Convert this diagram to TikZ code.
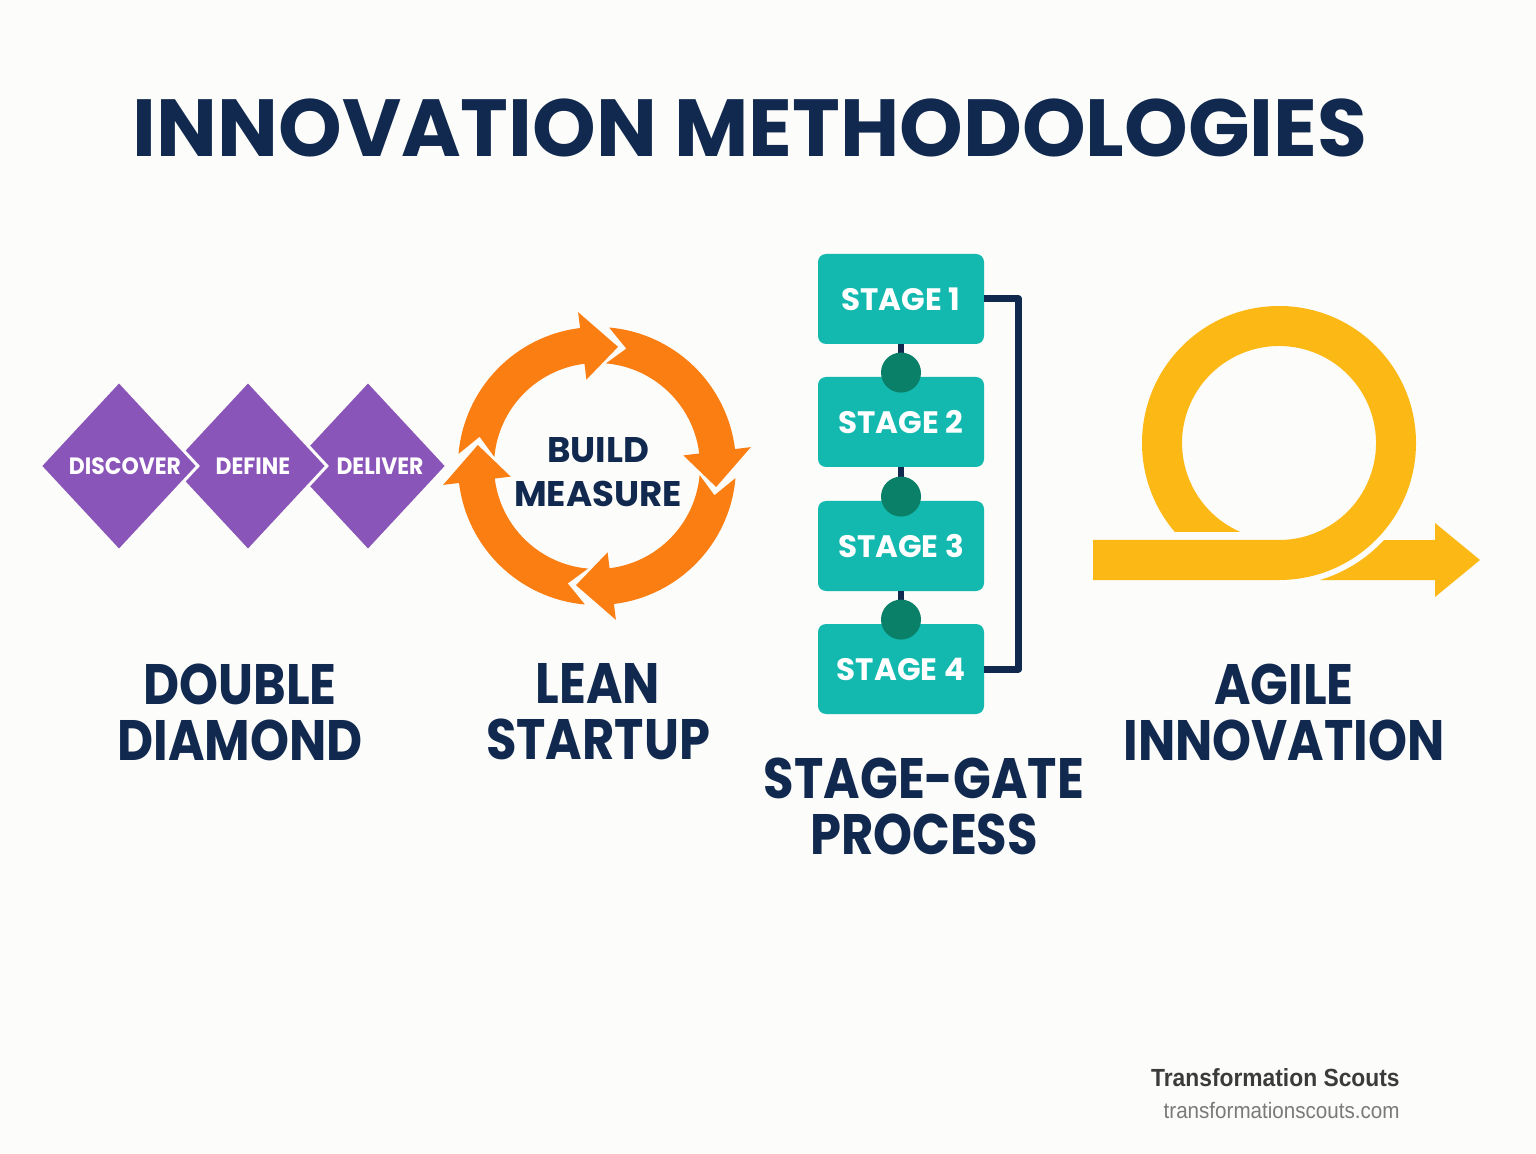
\documentclass[tikz,border=0pt]{standalone}
\usepackage{fontspec}
\setsansfont{Poppins}
\newfontfamily\namefont{Poppins}[FakeStretch=0.87]
\newfontfamily\phasefont{Poppins}[FakeStretch=0.93]
\newfontfamily\footfont{Liberation Sans}[FakeStretch=0.92]
\usepackage{tikz}
\usetikzlibrary{shapes.geometric,calc}
\definecolor{pagebg}{HTML}{FCFCFA}
\definecolor{navy}{HTML}{11294F}
\definecolor{ddpurple}{HTML}{8A55B8}
\definecolor{leanorange}{HTML}{FB7E12}
\definecolor{stageteal}{HTML}{13B9AF}
\definecolor{gategreen}{HTML}{0B8068}
\definecolor{agileyellow}{HTML}{FCB815}
\tikzset{heading/.style={text=navy,font=\sffamily\bfseries\fontsize{40.5}{42}\selectfont,inner sep=0pt},
    methodname/.style={text=navy,align=center,inner sep=0pt,
        font=\namefont\bfseries\fontsize{28.5}{28}\selectfont},
    phase/.style={shape=diamond,fill=ddpurple,draw=pagebg,line width=1.5pt,
        minimum width=79.5pt,minimum height=85.5pt,inner sep=0pt,text=white,
        font=\phasefont\bfseries\fontsize{11.8}{12}\selectfont},
    loopword/.style={text=navy,align=center,inner sep=0pt,
        font=\sffamily\bfseries\fontsize{17.8}{22}\selectfont},
    stagebox/.style={fill=stageteal,rounded corners=4pt,minimum width=83pt,
        minimum height=45pt,text=white,inner sep=0pt,
        font=\sffamily\bfseries\fontsize{15.5}{16}\selectfont},
    gateline/.style={draw=navy,line width=3.3pt},
    gatedot/.style={circle,fill=gategreen,minimum size=20pt,inner sep=0pt},
    bracket/.style={draw=navy,line width=3.5pt,line join=round},
    footbold/.style={text=black!77,inner sep=0pt,font=\footfont\bfseries\fontsize{12.4}{13}\selectfont},
    footurl/.style={text=black!52,inner sep=0pt,font=\footfont\fontsize{11.2}{12}\selectfont}}

\begin{document}
\begin{tikzpicture}[x=0.5pt,y=-0.5pt]
    % page
    \fill[pagebg] (0,0) rectangle (1536,1154);

    \node[heading] (title) at (750,128) {INNOVATION METHODOLOGIES};

    % double diamond
    \node[phase] (deliver) at (368,466) {\hspace*{12pt}DELIVER};
    \node[phase] (define) at (248,466) {\hspace*{5pt}DEFINE};
    \node[phase] (discover) at (119,466) {\hspace*{6pt}DISCOVER};
    \node[methodname] (doublediamond) at (240,712) {DOUBLE\\DIAMOND};

    % lean startup loop
    \begin{scope}[shift={(597,466)}]
        \foreach \t in {280,10,100,190}
            \fill[leanorange] ({\t-95}:139) arc[start angle=\t-95,end angle=\t-17,radius=139]
                -- ({\t-17}:155) -- (\t:121) -- ({\t-17}:87) -- ({\t-17}:103)
                arc[start angle=\t-17,end angle=\t-95,radius=103] -- ({\t-86}:121) -- cycle;
    \end{scope}
    \node[loopword] (buildmeasure) at (598,472) {BUILD\\MEASURE};
    \node[methodname] (leanstartup) at (598,712) {LEAN\\STARTUP};

    % stage-gate
    \foreach \i/\y in {1/299,2/422,3/546,4/669}
        \node[stagebox] (stage\i) at (901,\y) {STAGE \i};
    \foreach \i/\j in {1/2,2/3,3/4}{
        \draw[gateline] (stage\i) -- (stage\j);
        \node[gatedot] (gate\i) at ([yshift=2pt]stage\j.north) {};
    }
    \draw[bracket] (stage1.east) -- ++(34,0) |- (stage4.east);
    \node[methodname] (stagegate) at (924,806) {STAGE-GATE\\PROCESS};

    % agile loop arrow
    \fill[agileyellow] (1093,580) -- (1279,580) arc[start angle=90,end angle=-220.5,radius=137]
        -- (1240.5,532) arc[start angle=-246.6,end angle=90,radius=97] -- (1093,540) -- cycle;
    \fill[agileyellow] (1320,580) arc[start angle=73.3,end angle=42.7,radius=143]
        -- (1435,540) -- (1435,523) -- (1480,560) -- (1435,597) -- (1435,580) -- cycle;
    \node[methodname] (agile) at (1284,712) {AGILE\\INNOVATION};

    % footer
    \node[footbold,anchor=base east] (brand) at (1400,1086) {Transformation Scouts};
    \node[footurl,anchor=base east] (site) at (1400,1118) {transformationscouts.com};
\end{tikzpicture}
\end{document}
